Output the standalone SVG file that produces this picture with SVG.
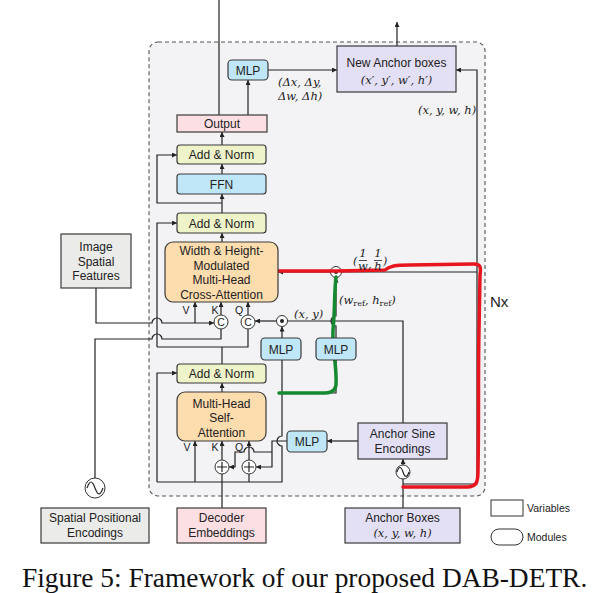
<svg xmlns="http://www.w3.org/2000/svg" width="595" height="593" viewBox="0 0 595 593">
<style>
.box{stroke:#3a3a3a;stroke-width:1.2}
.mod{fill:#bfe7f7}
.var{fill:#e3dff5}
.an{fill:#eef3c9}
.att{fill:#fddcae}
.gray{fill:#ebebe9}
.pink{fill:#fcdfe2}
.t{font-family:"Liberation Sans",Arial,sans-serif;font-size:12px;fill:#222;text-anchor:middle}
.s{font-family:"Liberation Sans",Arial,sans-serif;font-size:10.5px;fill:#222;text-anchor:middle}
.m{font-family:"DejaVu Serif","Liberation Serif",serif;font-style:italic;font-size:11.5px;fill:#222}
.w{fill:none;stroke:#222;stroke-width:1.2}
.wa{fill:none;stroke:#222;stroke-width:1.2;marker-end:url(#ah)}
.op{fill:#fff;stroke:#333;stroke-width:1}
</style>
<defs>
<marker id="ah" viewBox="0 0 10 10" refX="10" refY="5" markerWidth="5" markerHeight="5" markerUnits="userSpaceOnUse" orient="auto"><path d="M0,0 L10,5 L0,10 z" fill="#222"/></marker>
</defs>
<rect width="595" height="593" fill="#fff"/>
<rect id="container" x="149" y="42" width="336" height="454" rx="9" fill="#f3f3f6" stroke="#555" stroke-width="1.1" stroke-dasharray="4,3"/>

<g id="connectors">
<path class="w" d="M219,115 V0"/>
<path class="wa" d="M248,115 V80"/>
<path class="wa" d="M268,70 H337"/>
<path class="wa" d="M397,46 V22"/>
<path class="wa" d="M403,484 H477 V70 H456"/>
<path class="wa" d="M222,145 V132"/>
<path class="wa" d="M222,174 V164"/>
<path class="wa" d="M222,213 V194"/>
<path class="wa" d="M222,203 H157 V155 H177"/>
<path class="wa" d="M222,242 V233"/>
<path class="wa" d="M157,347 V223 H177"/>
<path class="wa" d="M96,288 V323 H152 A5,5 0 0,1 162,323 H214"/>
<path class="wa" d="M195,323 V302"/>
<path class="w" d="M95,478 V339 H152 A5,5 0 0,1 162,339 H221 V329"/>
<path class="wa" d="M221,315 V302"/>
<path class="wa" d="M248,315 V302"/>
<path class="w" d="M157,347 H248 V329"/>
<path class="w" d="M222,364 V347"/>
<path class="wa" d="M276.5,321 H255"/>
<path class="wa" d="M282,338 V326.5"/>
<path class="w" d="M287.5,321 H403 V423"/>
<path class="wa" d="M336,338 V326 A5,5 0 0,1 336,316 V277.5"/>
<path class="wa" d="M330.5,272 H278"/>
<path class="w" d="M341.5,272 H477"/>
<path class="w" d="M282,393 H336 V360"/>
<path class="w" d="M282,360 V436 A5,5 0 0,0 282,446 V482 H157"/>
<path class="wa" d="M157,482 V373 H177"/>
<path class="wa" d="M195,482 V441"/>
<path class="w" d="M222,482 V474"/>
<path class="wa" d="M222,460 V441"/>
<path class="w" d="M249,482 V474"/>
<path class="wa" d="M249,460 V441"/>
<path class="w" d="M222,508 V482"/>
<path class="wa" d="M222,392 V383"/>
<path class="wa" d="M287,441 H272 V467 H256"/>
<path class="wa" d="M272,452 H254 A5,5 0 0,0 244,452 H235 V467 H229"/>
<path class="wa" d="M358,441 H327"/>
<path class="w" d="M403,508 V479"/>
<path class="wa" d="M403,465 V459"/>
</g>

<g id="operators">
<circle class="op" cx="221" cy="322" r="7"/><text class="s" x="221" y="326" font-size="10">C</text>
<circle class="op" cx="248" cy="322" r="7"/><text class="s" x="248" y="326" font-size="10">C</text>
<circle class="op" cx="282" cy="321" r="5.5"/><circle cx="282" cy="321" r="2" fill="#222"/>
<circle class="op" cx="336" cy="272" r="5.5"/><circle cx="336" cy="272" r="2" fill="#222"/>
<circle class="op" cx="222" cy="467" r="7"/><path class="w" d="M217,467 H227 M222,462 V472"/>
<circle class="op" cx="249" cy="467" r="7"/><path class="w" d="M244,467 H254 M249,462 V472"/>
<circle class="op" cx="403" cy="472" r="7"/><path class="w" d="M397,472 C399,466 401,466 403,472 C405,478 407,478 409,472"/>
<circle class="op" cx="95" cy="488" r="10"/><path class="w" d="M87,488 C90,480 92,480 95,488 C98,496 100,496 103,488"/>
</g>

<path id="red-mark" d="M272,271 L337,271 L385,270 C390,266 395,265 410,265 L474,264 C481,264 481,268 480,275 L479,330 C478,380 479,420 478,470 C478,482 477,486 468,487 L403,487" fill="none" stroke="#e8141e" stroke-width="3.5" stroke-linecap="round" stroke-linejoin="round"/>
<path id="green-mark" d="M336,277 C334,295 335,310 333,330 C332,350 337,365 336,385 C335,392 330,393 322,393 L279,393" fill="none" stroke="#15892f" stroke-width="3.5" stroke-linecap="round" stroke-linejoin="round"/>

<g id="newAnchor"><rect class="box var" x="337" y="46" width="119" height="46"/>
<text class="t" x="396.5" y="67">New Anchor boxes</text>
<text class="m" x="396.5" y="84" text-anchor="middle">(x′, y′, w′, h′)</text></g>
<g id="mlpTop"><rect class="box mod" x="228" y="60" width="40" height="20" rx="4"/><text class="t" x="248" y="74.5">MLP</text></g>
<g id="output"><rect class="box pink" x="177" y="115" width="90" height="17"/><text class="t" x="222" y="128">Output</text></g>
<g id="addNorm3"><rect class="box an" x="177" y="145" width="89" height="19" rx="3"/><text class="t" x="221.5" y="159">Add &amp; Norm</text></g>
<g id="ffn"><rect class="box mod" x="177" y="174" width="89" height="20" rx="3"/><text class="t" x="221.5" y="188.5">FFN</text></g>
<g id="addNorm2"><rect class="box an" x="177" y="213" width="89" height="20" rx="3"/><text class="t" x="221.5" y="227.5">Add &amp; Norm</text></g>
<g id="crossAttn"><rect class="box att" x="165" y="242" width="113" height="60" rx="8"/>
<text class="t" x="221.5" y="255">Width &amp; Height-</text>
<text class="t" x="221.5" y="269.5">Modulated</text>
<text class="t" x="221.5" y="284">Multi-Head</text>
<text class="t" x="221.5" y="298.5">Cross-Attention</text></g>
<g id="mlp1"><rect class="box mod" x="261" y="338" width="40" height="22" rx="4"/><text class="t" x="281" y="353.5">MLP</text></g>
<g id="mlp2"><rect class="box mod" x="316" y="338" width="40" height="22" rx="4"/><text class="t" x="336" y="353.5">MLP</text></g>
<g id="addNorm1"><rect class="box an" x="177" y="364" width="89" height="19" rx="3"/><text class="t" x="221.5" y="378">Add &amp; Norm</text></g>
<g id="selfAttn"><rect class="box att" x="177" y="392" width="89" height="49" rx="8"/>
<text class="t" x="221.5" y="407.5">Multi-Head</text>
<text class="t" x="221.5" y="422">Self-</text>
<text class="t" x="221.5" y="436.5">Attention</text></g>
<g id="mlp3"><rect class="box mod" x="287" y="431" width="40" height="21" rx="4"/><text class="t" x="307" y="446">MLP</text></g>
<g id="anchorSine"><rect class="box var" x="358" y="423" width="89" height="36"/>
<text class="t" x="402.5" y="437.5">Anchor Sine</text>
<text class="t" x="402.5" y="452.5">Encodings</text></g>
<g id="anchorBoxes"><rect class="box var" x="345" y="508" width="115" height="35"/>
<text class="t" x="402.5" y="522">Anchor Boxes</text>
<text class="m" x="402.5" y="537" text-anchor="middle">(x, y, w, h)</text></g>
<g id="decoderEmb"><rect class="box pink" x="177" y="508" width="89" height="35"/>
<text class="t" x="221.5" y="522">Decoder</text>
<text class="t" x="221.5" y="537">Embeddings</text></g>
<g id="spatialPos"><rect class="box gray" x="41" y="508" width="108" height="35"/>
<text class="t" x="95" y="522">Spatial Positional</text>
<text class="t" x="95" y="537">Encodings</text></g>
<g id="imageFeat"><rect class="box gray" x="61" y="234" width="70" height="54"/>
<text class="t" x="96" y="251">Image</text>
<text class="t" x="96" y="265.5">Spatial</text>
<text class="t" x="96" y="280">Features</text></g>

<g id="labels">
<text class="s" x="186" y="314">V</text><text class="s" x="215" y="314">K</text><text class="s" x="239" y="314">Q</text>
<text class="s" x="187" y="451">V</text><text class="s" x="215" y="451">K</text><text class="s" x="239" y="451">Q</text>
<text class="m" x="278" y="86">(Δx, Δy,</text>
<text class="m" x="278" y="100">Δw, Δh)</text>
<text class="m" x="418" y="114">(x, y, w, h)</text>
<text class="m" x="294" y="318">(x, y)</text>
<text class="m" x="339" y="304">(w<tspan font-size="8" font-style="normal" dy="2">ref</tspan><tspan dy="-2">, h</tspan><tspan font-size="8" font-style="normal" dy="2">ref</tspan><tspan dy="-2">)</tspan></text>
<g class="m" font-size="9">
<text x="353" y="265" font-size="11">(</text>
<text x="363" y="257" text-anchor="middle">1</text>
<text x="363" y="269.5" text-anchor="middle">w</text>
<text x="368" y="268">,</text>
<text x="378" y="257" text-anchor="middle">1</text>
<text x="378" y="269.5" text-anchor="middle">h</text>
<text x="383" y="265" font-size="11">)</text>
</g>
<path d="M359,260.5 H367 M374,260.5 H382" stroke="#222" stroke-width="0.8"/>
<text x="490" y="307" font-family="Liberation Sans,Arial,sans-serif" font-size="15" fill="#222">Nx</text>
</g>

<g id="legend">
<rect x="491" y="500" width="32" height="16" fill="#fff" stroke="#333" stroke-width="1"/>
<text x="527" y="512" font-family="Liberation Sans,Arial,sans-serif" font-size="10.5" fill="#222">Variables</text>
<rect x="491" y="529" width="32" height="16" rx="8" fill="#fff" stroke="#333" stroke-width="1"/>
<text x="527" y="541" font-family="Liberation Sans,Arial,sans-serif" font-size="10.5" fill="#222">Modules</text>
</g>

<text id="caption" x="22" y="587" font-family="Liberation Serif,Times New Roman,serif" font-size="27.4" fill="#111">Figure 5: Framework of our proposed DAB-DETR.</text>
</svg>
